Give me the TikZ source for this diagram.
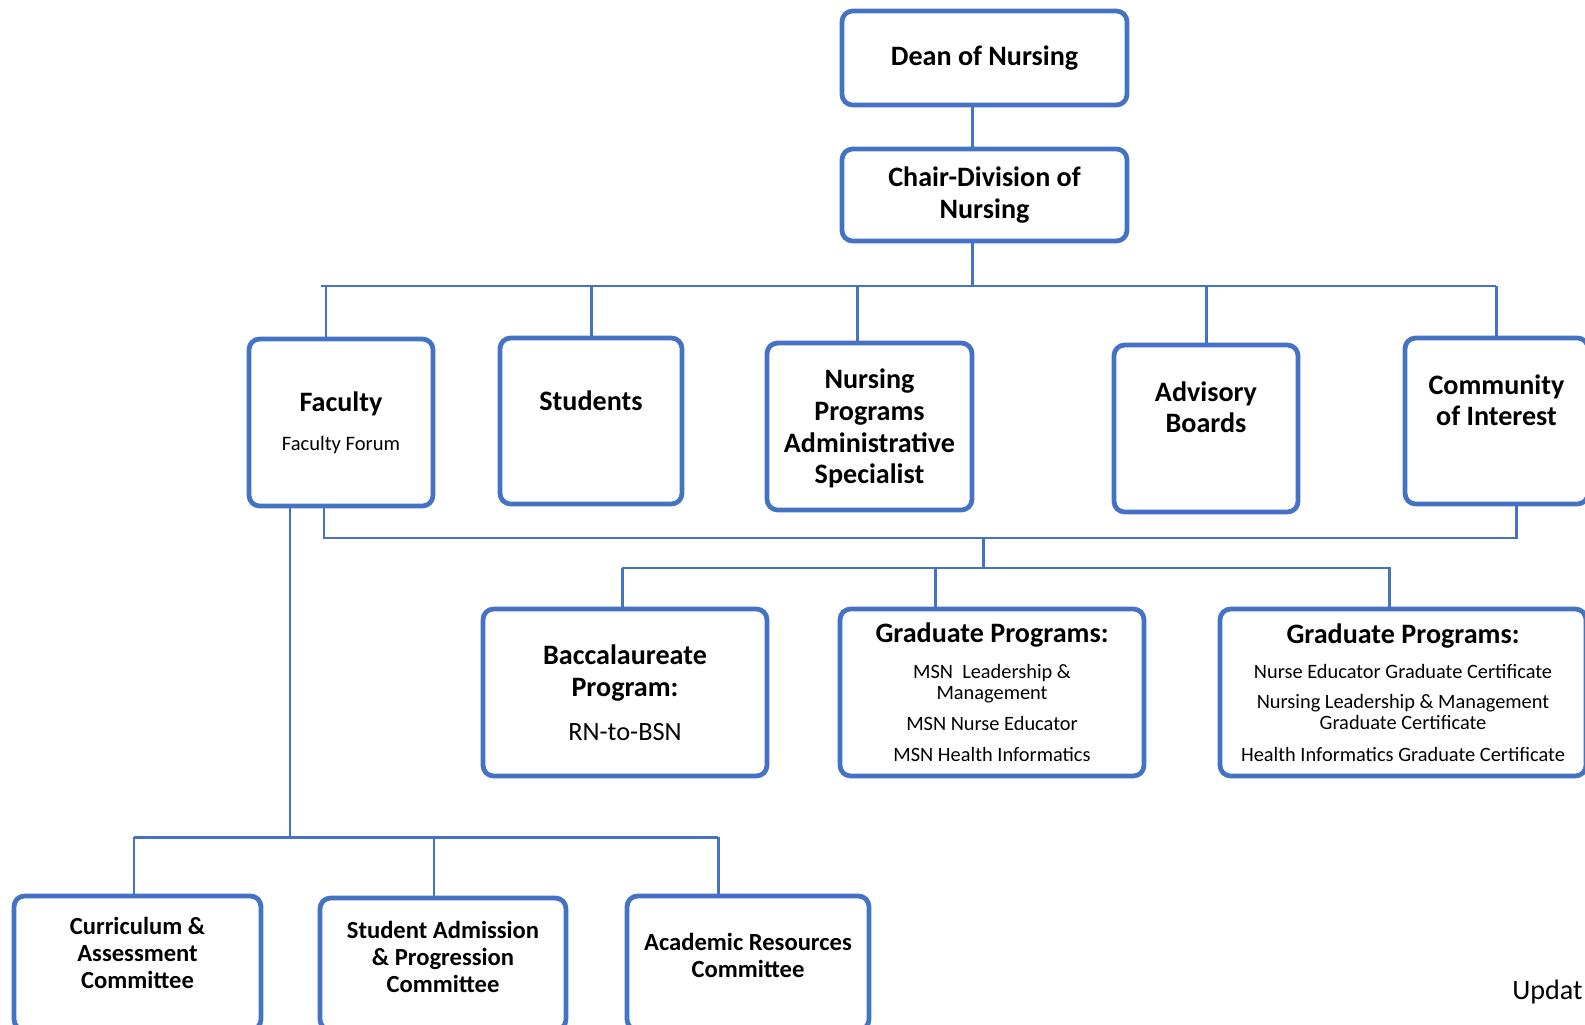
\documentclass[tikz,border=0pt]{standalone}
\usepackage{fontspec}
\setmainfont{Carlito}

\definecolor{nblue}{RGB}{68,114,196}
\newcommand{\topfont}{\fontsize{16}{18}\selectfont\bfseries}
\newcommand{\progfont}{\fontsize{16}{18.2}\selectfont\bfseries}
\newcommand{\itemfont}{\fontsize{11.6}{12}\selectfont\mdseries}
\newcommand{\cmtfont}{\fontsize{14}{15.5}\selectfont\bfseries}

\tikzset{
  orgbox/.style={draw=nblue, line width=2.7pt, rounded corners=6pt, fill=white, align=center, inner sep=2pt},
  link/.style={draw=nblue, line width=1.7pt},
}

\begin{document}
\begin{tikzpicture}[x=0.02cm, y=-0.02cm]
    \useasboundingbox (0,0) rectangle (1585,1024);
    \clip (0,0) rectangle (1585,1024);

    \node[orgbox, minimum width=5.7cm, minimum height=1.88cm, font=\topfont] (dean) at (984.5,58) {Dean of Nursing};
    \node[orgbox, minimum width=5.7cm, minimum height=1.84cm, font=\topfont] (chair) at (984.5,195) {Chair-Division of\\Nursing};

    \node[orgbox, minimum width=3.68cm, minimum height=3.34cm, font=\topfont] (faculty) at (341,422.5) {Faculty\\[4pt]{\fontsize{11.7}{14}\selectfont\mdseries Faculty Forum}};
    \node[orgbox, minimum width=3.64cm, minimum height=3.32cm, font=\topfont, text depth=0.8cm] (students) at (591,421) {Students};
    \node[orgbox, minimum width=4.1cm, minimum height=3.34cm, font=\topfont, text depth=0pt] (nrsadmin) at (869.5,426.5) {Nursing\\Programs\\Administrative\\Specialist};
    \node[orgbox, minimum width=3.68cm, minimum height=3.34cm, font=\topfont, text depth=0.86cm] (advisory) at (1206,428.5) {Advisory\\Boards};
    \node[orgbox, minimum width=3.66cm, minimum height=3.32cm, font=\topfont, text depth=0.84cm] (community) at (1496.5,421) {Community\\of Interest};

    \node[orgbox, minimum width=5.68cm, minimum height=3.34cm, font=\progfont] (bacc) at (625,692.5) {Baccalaureate\\Program:\\[7pt]{\fontsize{15}{18}\selectfont\mdseries RN-to-BSN}};
    \node[orgbox, minimum width=6.08cm, minimum height=3.34cm, font=\itemfont] (gradmsn) at (992,692.5) {{\progfont Graduate Programs:}\\[8.3pt]MSN\ \ Leadership \&\\Management\\[5.6pt]MSN Nurse Educator\\[6pt]MSN Health Informatics};
    \node[orgbox, minimum width=7.32cm, minimum height=3.34cm, font=\itemfont] (gradcert) at (1403,692.5) {{\progfont Graduate Programs:}\\[8pt]Nurse Educator Graduate Certificate\\[5pt]Nursing Leadership \& Management\\Graduate Certificate\\[6pt]Health Informatics Graduate Certificate};

    \node[orgbox, minimum width=4.94cm, minimum height=2.68cm, font=\cmtfont, text depth=0.4cm] (curric) at (137.5,963) {Curriculum \&\\Assessment\\Committee};
    \node[orgbox, minimum width=4.92cm, minimum height=2.64cm, font=\cmtfont, text depth=0.28cm] (admprog) at (443,964) {Student Admission\\\& Progression\\Committee};
    \node[orgbox, minimum width=4.84cm, minimum height=2.68cm, font=\cmtfont, text depth=0.3cm] (acadres) at (748,963) {Academic Resources\\Committee};

    \node[anchor=base west, inner sep=0pt, font=\fontsize{16}{18}\selectfont] (updnote) at (1512,999) {Updat};

    \coordinate (trunk) at (972,286);
    \coordinate (busL) at (321,286);
    \coordinate (busR) at (1496,286);
    \coordinate (tFac) at (326,286);
    \coordinate (tNpa) at (857,286);
    \draw[link] (dean.south -| trunk) -- (chair.north -| trunk);
    \draw[link] (chair.south -| trunk) -- (trunk);
    \draw[link] (busL) -- (busR);
    \draw[link] (tFac) -- (tFac |- faculty.north);
    \draw[link] (students.north |- busL) -- (students.north);
    \draw[link] (tNpa) -- (tNpa |- nrsadmin.north);
    \draw[link] (advisory.north |- busL) -- (advisory.north);
    \draw[link] (community.north |- busL) -- (community.north);

    \coordinate (lowL) at (324,538);
    \coordinate (lowR) at (1516,538);
    \coordinate (lowM) at (983,538);
    \draw[link] (lowL |- faculty.south) -- (lowL) -- (lowR) -- (lowR |- community.south);
    \coordinate (progM) at (983,568);
    \coordinate (progL) at (622,568);
    \coordinate (progR) at (1391,568);
    \coordinate (gMsn) at (935,568);
    \coordinate (gCert) at (1389,568);
    \draw[link] (lowM) -- (progM);
    \draw[link] (progL) -- (progR);
    \draw[link] (progL) -- (progL |- bacc.north);
    \draw[link] (gMsn) -- (gMsn |- gradmsn.north);
    \draw[link] (gCert) -- (gCert |- gradcert.north);

    \coordinate (stem) at (290,837);
    \coordinate (cmtL) at (134,837);
    \coordinate (cmtM) at (434,837);
    \coordinate (cmtR) at (718,837);
    \draw[link] (stem |- faculty.south) -- (stem);
    \draw[link] (cmtL) -- (cmtR);
    \draw[link] (cmtL) -- (cmtL |- curric.north);
    \draw[link] (cmtM) -- (cmtM |- admprog.north);
    \draw[link] (cmtR) -- (cmtR |- acadres.north);
\end{tikzpicture}
\end{document}
